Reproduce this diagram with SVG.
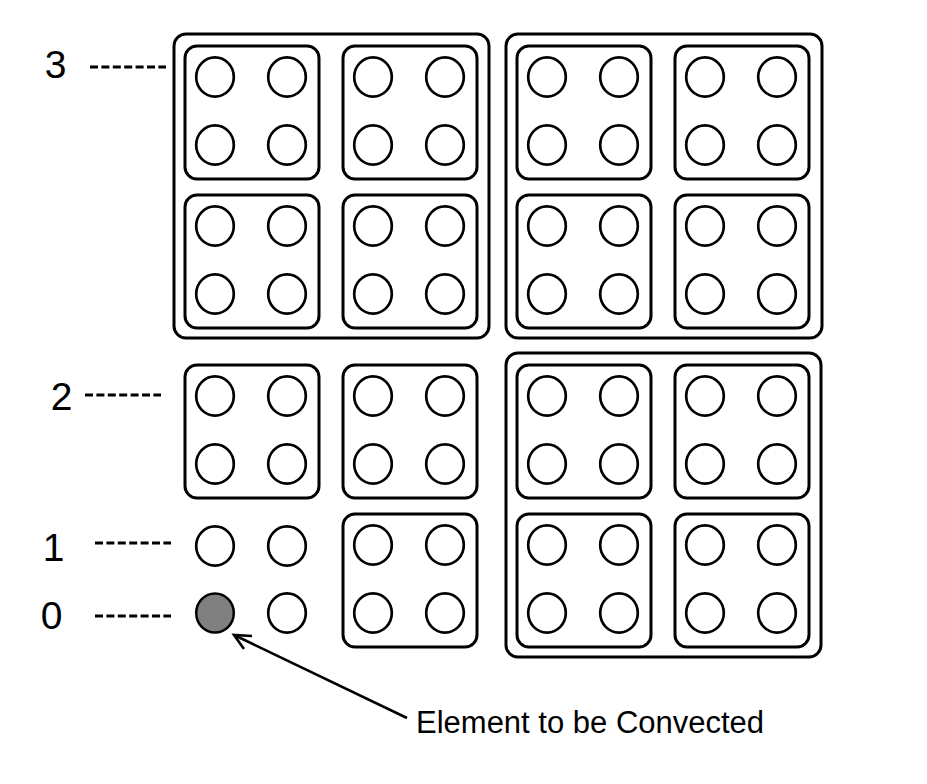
<svg xmlns="http://www.w3.org/2000/svg" xmlns:xlink="http://www.w3.org/1999/xlink" width="927" height="784" viewBox="0 0 927 784">
<style>
.outer{fill:none;stroke:#000;stroke-width:3}
.inner{fill:none;stroke:#000;stroke-width:3}
.el{fill:#fff;stroke:#000;stroke-width:2.7}
.grey{fill:#808080;stroke:#000;stroke-width:2.5}
.lvl{font-family:"Liberation Sans",Arial,sans-serif;font-size:39px;fill:#000;text-anchor:middle}
.lab{font-family:"Liberation Sans",Arial,sans-serif;font-size:31px;fill:#000}
.dash{stroke:#000;stroke-width:2.8;stroke-dasharray:8 3.4;fill:none}
.arr{stroke:#000;stroke-width:2.6;fill:none}
</style>
<defs>
<ellipse id="c" rx="18.8" ry="19.6" class="el"/>
<g id="quad">
<rect x="0" y="0" width="134" height="133" rx="12" class="inner"/>
<use xlink:href="#c" x="30" y="31"/>
<use xlink:href="#c" x="102" y="31"/>
<use xlink:href="#c" x="30" y="99"/>
<use xlink:href="#c" x="102" y="99"/>
</g>
</defs>
<rect width="927" height="784" fill="#fff"/>
<g id="levels">
<text class="lvl" x="55.5" y="78">3</text>
<text class="lvl" x="61.5" y="410">2</text>
<text class="lvl" x="53.5" y="561">1</text>
<text class="lvl" x="51.5" y="629">0</text>
</g>
<g id="level-3-block-left">
<rect x="174" y="34" width="315" height="304" rx="12" class="outer"/>
<use xlink:href="#quad" x="185" y="46"/>
<use xlink:href="#quad" x="343" y="46"/>
<use xlink:href="#quad" x="185" y="195"/>
<use xlink:href="#quad" x="343" y="195"/>
</g>
<g id="level-3-block-right">
<rect x="506" y="34" width="316" height="304" rx="12" class="outer"/>
<use xlink:href="#quad" x="517" y="46"/>
<use xlink:href="#quad" x="675" y="46"/>
<use xlink:href="#quad" x="517" y="195"/>
<use xlink:href="#quad" x="675" y="195"/>
</g>
<g id="level-3-block-bottom">
<rect x="506" y="353" width="315" height="304" rx="12" class="outer"/>
<use xlink:href="#quad" x="517" y="365"/>
<use xlink:href="#quad" x="675" y="365"/>
<use xlink:href="#quad" x="517" y="514"/>
<use xlink:href="#quad" x="675" y="514"/>
</g>
<g id="level-2-a"><use xlink:href="#quad" x="185" y="365"/></g>
<g id="level-2-b"><use xlink:href="#quad" x="343" y="365"/></g>
<g id="level-2-c"><use xlink:href="#quad" x="343" y="514"/></g>
<g id="level-0-1-elements">
<use xlink:href="#c" x="215" y="546"/>
<use xlink:href="#c" x="287" y="546"/>
<ellipse cx="215" cy="613" rx="18.8" ry="19.6" class="grey"/>
<use xlink:href="#c" x="287" y="613"/>
</g>
<g id="connectors">
<line class="dash" x1="90" y1="67" x2="166" y2="67"/>
<line class="dash" x1="85" y1="395" x2="161" y2="395"/>
<line class="dash" x1="95" y1="543" x2="171" y2="543"/>
<line class="dash" x1="95" y1="616" x2="171" y2="616"/>
<line class="arr" x1="407" y1="718" x2="234" y2="635"/>
<polyline class="arr" points="252,636 234,635 244,649"/>
</g>
<text class="lab" x="416" y="733">Element to be Convected</text>
</svg>
